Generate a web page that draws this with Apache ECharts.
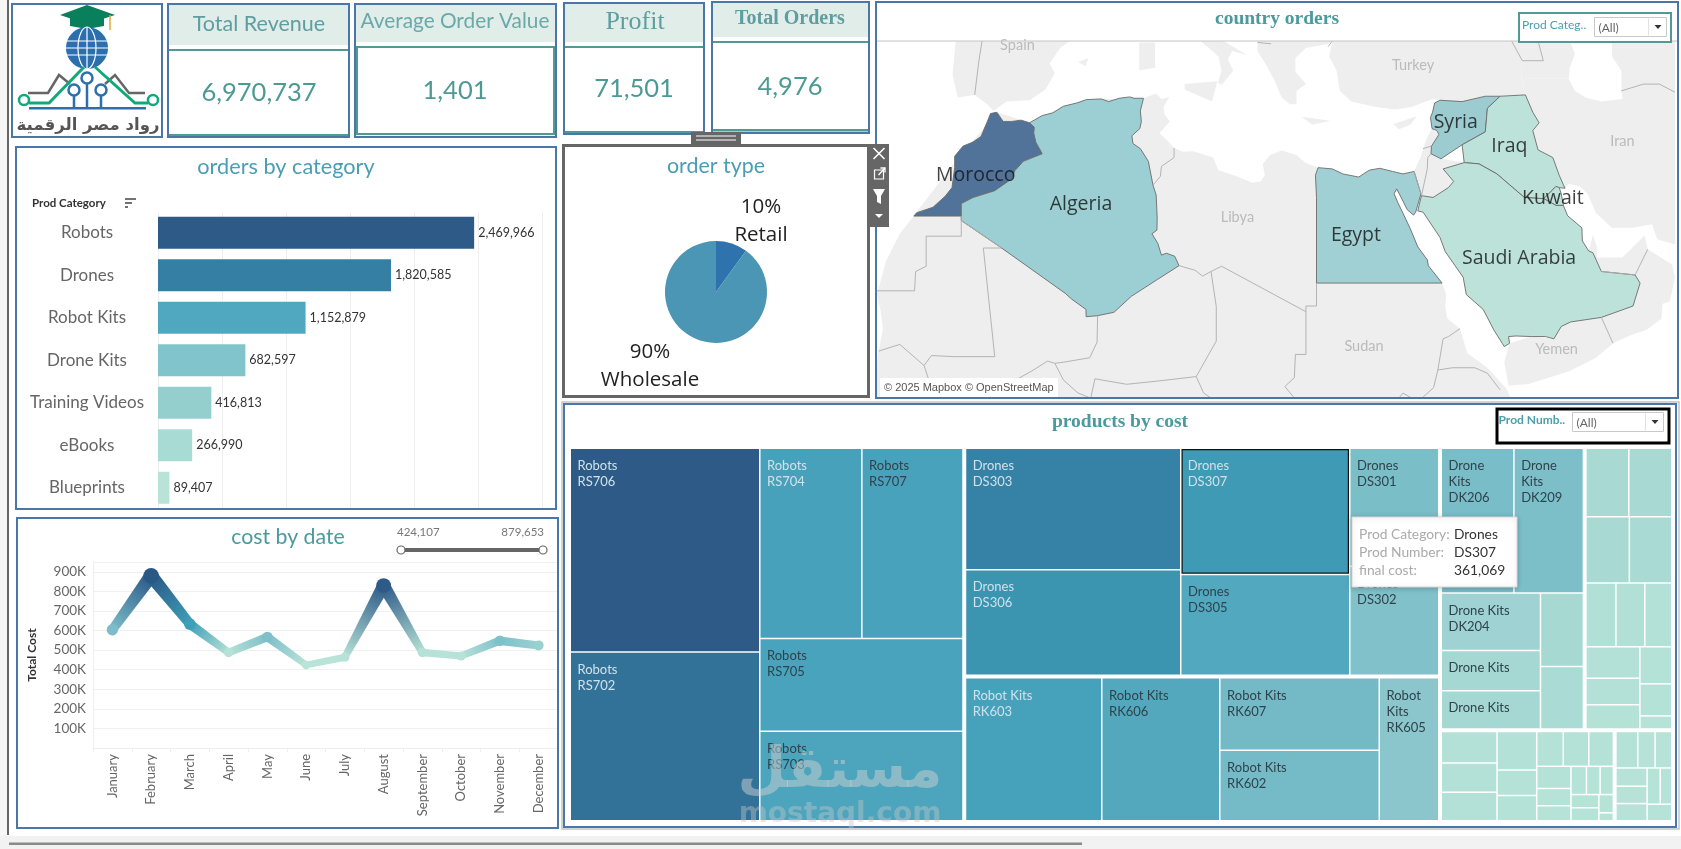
<!DOCTYPE html>
<html lang="en">
<head>
<meta charset="utf-8">
<title>Sales dashboard</title>
<style>html,body{margin:0;padding:0;background:#fff;overflow:hidden}#main{width:1681px;height:849px}</style>
<script src="https://cdn.jsdelivr.net/npm/echarts@6/dist/echarts.min.js"></script>
</head>
<body>
<div id="main"></div>
<script>
// ---------- Data ----------
const kpiTotalRevenue = '6,970,737';
const kpiAverageOrderValue = '1,401';
const kpiProfit = '71,501';
const kpiTotalOrders = '4,976';

const categories = ['Robots', 'Drones', 'Robot Kits', 'Drone Kits', 'Training Videos', 'eBooks', 'Blueprints'];
const categoryTotals = [2469966, 1820585, 1152879, 682597, 416813, 266990, 89407];
const categoryColors = ['#2d5a87', '#367fa4', '#4fa8bf', '#82c4cb', '#94cfcd', '#a8dbd3', '#b9e3d6'];

const orderTypes = ['Retail', 'Wholesale'];
const orderTypeShares = [10, 90];
const orderTypeColors = ['#2e72ae', '#4a96b4'];

const months = ['January', 'February', 'March', 'April', 'May', 'June', 'July', 'August', 'September', 'October', 'November', 'December'];
const monthlyCost = [604000, 879653, 633000, 488000, 567000, 424107, 464000, 830000, 488000, 470000, 548000, 524000];

const robotsProducts = [['RS706', 652000], ['RS702', 540000], ['RS704', 328000], ['RS707', 325000], ['RS705', 318000], ['RS703', 307000]];
const dronesProducts = [['DS303', 443000], ['DS306', 385000], ['DS307', 361069], ['DS305', 289000], ['DS301', 178000], ['DS302', 164500]];
const robotKitsProducts = [['RK603', 332000], ['RK606', 287500], ['RK607', 197000], ['RK602', 191500], ['RK605', 145000]];
const droneKitsProducts = [['DK206', 180000], ['DK209', 172300], ['DK204', 97300], ['DK203', 68300], ['DK207', 64900], ['DK201', 54000], ['DK208', 45800]];
const trainingProducts = [['TV01', 50900], ['TV02', 50900], ['TV03', 49800], ['TV04', 48600], ['TV05', 33100], ['TV06', 31900], ['TV07', 29700], ['TV08', 29400], ['TV09', 24600], ['TV10', 22700], ['TV11', 20400], ['TV12', 17700], ['TV13', 7200]];
const ebookProducts = [['EB01', 30500], ['EB02', 28500], ['EB03', 27500], ['EB04', 26600], ['EB05', 17500], ['EB06', 17500], ['EB07', 16100], ['EB08', 15500], ['EB09', 14900], ['EB10', 13200], ['EB11', 10200], ['EB12', 9000], ['EB13', 7600], ['EB14', 6700], ['EB15', 6500], ['EB16', 6400], ['EB17', 6300], ['EB18', 4600], ['EB19', 2000]];
const blueprintProducts = [['BP01', 14300], ['BP02', 11300], ['BP03', 10900], ['BP04', 10200], ['BP05', 9700], ['BP06', 9600], ['BP07', 8500], ['BP08', 7500], ['BP09', 7300]];
const productsByCategory = [robotsProducts, dronesProducts, robotKitsProducts, droneKitsProducts, trainingProducts, ebookProducts, blueprintProducts];

const lightLabelCells = ['RS706', 'RS702', 'RS704', 'DS303', 'DS306', 'DS307', 'RK603'];
const wrappedLabelCells = ['DK206', 'DK209', 'RK605'];
const nameOnlyLabelCells = ['DK203', 'DK207'];
const unlabelledCells = ['DK201', 'DK208'];
const treemapRamp = [[2000, '#b7e3d7'], [30000, '#b3e1d7'], [50000, '#a8dad3'], [100000, '#9fd2d2'], [180000, '#79bdc8'], [290000, '#52a8be'], [330000, '#47a1bb'], [370000, '#3c98b3'], [440000, '#3683a6'], [540000, '#327299'], [650000, '#2d5a87']];
const costRamp = [[424000, '#b9e4d8'], [500000, '#b5e1d6'], [548000, '#7fc0ca'], [604000, '#7cbdc9'], [633000, '#3e9fb8'], [830000, '#2d5a87'], [880000, '#2a5886']];

const mapExtent = { west: -16.66, east: 58.98, south: 11.75, north: 41.1 };

const countryColors = { Morocco: '#527399', Algeria: '#9ccfd3', Egypt: '#a0d0d4', Syria: '#9cccd0', Iraq: '#bde2da', Kuwait: '#bde2da', 'Saudi Arabia': '#bde2da' };

const moroccoOutline = [[-13.17,27.67],[-12.9,27.95],[-11.35,28.4],[-10.2,29.3],[-9.55,30],[-9.3,31.6],[-9.3,32.5],[-8.5,33.3],[-7.6,33.6],[-6.8,34.05],[-6.2,35.2],[-5.9,35.8],[-5.3,35.9],[-4.7,35.2],[-3.9,35.2],[-3,35.3],[-2.2,35.1],[-1.75,34.75],[-1.8,34.3],[-1.6,33.6],[-1,32.7],[-2.8,32.1],[-3.6,31.35],[-3.9,30.7],[-5.5,29.75],[-7.55,29.2],[-8.67,28.7],[-8.67,27.67]];
const algeriaOutline = [[-2.2,35.1],[-1,35.65],[0,35.85],[1,36.35],[2.3,36.6],[3.2,36.85],[4.6,36.9],[5.3,36.7],[6.3,36.95],[7.3,37.05],[7.7,36.95],[8.6,36.95],[8.3,36],[8.4,35.2],[8.25,34.65],[7.5,34.1],[7.6,33.5],[8.3,33.1],[9.06,32.1],[9.5,30.2],[9.8,29.4],[9.9,27.5],[9.87,26.5],[9.4,26.2],[9.95,25.4],[10.3,24.4],[10.77,24.56],[11.56,24.3],[11.97,23.5],[9.9,22.3],[7.45,20.85],[5.8,19.45],[4.25,19.15],[3.16,19.06],[3.15,19.7],[1.8,20.6],[1.17,21.12],[-4.83,24.99],[-8.67,27.3],[-8.67,27.67],[-8.67,28.7],[-7.55,29.2],[-5.5,29.75],[-3.9,30.7],[-3.6,31.35],[-2.8,32.1],[-1,32.7],[-1.6,33.6],[-1.8,34.3],[-1.75,34.75]];
const egyptOutline = [[25.15,31.6],[26.5,31.5],[27.5,31.1],[29,30.85],[30,31.4],[31,31.55],[32.2,31.3],[33.2,31.1],[34.25,31.3],[34.9,29.5],[34.4,28],[34.2,27.75],[33.6,28.2],[33.2,28.9],[32.6,29.9],[32.35,29.5],[32.7,28.8],[33.2,27.9],[33.9,26.6],[34.6,25.1],[35.5,24],[35.6,23.5],[36.9,22],[25,22],[25,29.2],[24.9,31]];
const syriaOutline = [[36,35.9],[35.8,35.5],[35.95,34.65],[36.4,34.5],[36.6,34.2],[35.9,33.3],[35.85,32.7],[36.8,32.3],[38.8,33.4],[41,34.4],[41.2,36.2],[42.4,37.1],[41,37.1],[38.8,36.7],[36.7,36.8],[36.2,36.6]];
const iraqOutline = [[42.4,37.1],[44.8,37.2],[45.5,35.9],[46.1,35.1],[45.5,34.5],[46,33],[47.4,32.4],[48,31],[48.55,29.95],[47.9,30],[47.7,30.1],[46.55,29.1],[44.7,29.2],[42.1,31.1],[40.4,31.9],[39,32],[38.8,33.4],[41,34.4],[41.2,36.2]];
const kuwaitOutline = [[47.7,30.1],[48,30],[48.2,29.5],[48.4,28.55],[47.7,28.55],[46.55,29.1]];
const saudiOutline = [[34.95,29.35],[36.05,29.2],[37.5,30],[38,30.5],[37,31.5],[39,32],[40.4,31.9],[42.1,31.1],[44.7,29.2],[46.55,29.1],[47.7,28.55],[48.4,28.55],[48.8,27.7],[50.15,26.7],[50.2,25.6],[50.8,24.75],[51.2,24.6],[52,23],[55.2,22.7],[55.67,22],[55,20],[52,19],[49.1,18.6],[48.2,18.2],[47.5,17.1],[46.7,17.3],[45.4,17.3],[43.9,17.35],[43.2,17.3],[43.3,16.7],[42.8,16.4],[42.6,16.7],[41.8,17.9],[40.8,19.7],[39.2,21],[38.9,22.5],[37.2,24.7],[36.7,25.9],[35.1,28],[34.6,28.1]];

const landAfrica = [[-16.66,11.75],[-16.66,15],[-16.5,16],[-16.1,18],[-16.3,19.5],[-16.66,21],[-15.8,23.9],[-14.5,26.2],[-13.17,27.67],[-9.8,31.5],[-5.3,35.9],[-2.2,35.1],[1,36.35],[3.2,36.85],[8.6,36.95],[9.8,37.3],[10.3,36.9],[11.05,37.05],[10.5,36.3],[10.6,35.7],[11.1,35.2],[10.1,34.3],[10.9,33.7],[11.5,33.15],[12.3,32.85],[13.3,32.9],[15.2,32.4],[15.7,31.4],[17.5,30.9],[18.9,30.4],[19.7,30.5],[20.1,31],[19.9,31.9],[20.6,32.6],[21.7,32.95],[23.1,32.6],[23.9,32],[25.15,31.6],[36.9,22],[37.3,21],[37.2,20],[37.4,18.9],[38.6,18],[39.3,15.8],[41.2,14.5],[43,12.6],[43.4,11.75]];
const landLevant = [[34.25,31.3],[34.9,29.5],[34.95,29.35],[36.05,29.2],[37.5,30],[38,30.5],[37,31.5],[39,32],[36.8,32.3],[35.85,33.3],[36.6,34.2],[35.95,34.65],[35.5,34],[35.1,33.1],[34.9,32.5]];
const landYemen = [[43.2,12.9],[45,13],[47,13.6],[49,14.2],[51.5,15.4],[53.1,16.7],[52,19],[49.1,18.6],[48.2,18.2],[47.5,17.1],[45.4,17.3],[43.3,16.7],[42.8,15]];
const landOman = [[50.8,24.75],[51.2,26.1],[51.6,25],[51.6,24.2],[54,24.2],[56.1,26.05],[56.4,24.9],[58.7,23.6],[58.98,22.5],[58.5,20.4],[57.8,20.2],[57.7,18.9],[56.3,17.9],[55,17.5],[53.1,16.7],[52,19],[55,20],[55.67,22],[55.2,22.7],[52,23]];
const landTurkey = [[26.5,41.1],[26.2,40],[26.9,39],[27.2,37.5],[28.3,36.7],[30.6,36.3],[32.5,36.1],[34,36.3],[36,36.9],[36.7,36.8],[38.8,36.7],[41,37.1],[44.8,37.2],[44.4,38.4],[44.5,39.7],[43.5,41.1]];
const landCaucasus = [[43.5,41.1],[44.5,39.7],[44.4,38.4],[48.9,38.4],[49,39.2],[49.5,40.2],[49,41.1]];
const landIran = [[44.8,37.2],[44.4,38.4],[48.9,38.4],[49.5,37.5],[50.5,37],[52,36.7],[54,36.9],[53.9,37.5],[53.9,39],[53,40],[53,41.1],[58.98,41.1],[58.98,25.3],[57.3,25.75],[56.8,27],[55,26.7],[53,26.7],[51.5,27.9],[50.7,29.5],[50,30.1],[48.9,30.3],[48.55,29.95],[48,31],[47.4,32.4],[46,33],[45.5,34.5],[46.1,35.1],[45.5,35.9]];
const landIberia = [[-9.2,41.1],[-9.5,38.7],[-9,37],[-7.4,37.2],[-6.2,36.5],[-5.6,36],[-4.4,36.7],[-2.2,36.8],[-0.7,37.6],[0.2,38.8],[-0.3,39.5],[0.7,40.6],[1.6,41.1]];
const landBalkans = [[19.4,41.1],[19.4,40.4],[20,39.7],[21,38.3],[21.7,37],[22.5,36.5],[23.1,36.5],[23.1,37.5],[24,38],[23,38.9],[23,39.9],[24,40.6],[26.2,40.9],[26.5,41.1]];
const landItaly = [[14,41.1],[14.8,40.6],[15.7,40],[16,39],[15.65,38.1],[16,37.95],[16.5,38.4],[17.1,39],[16.6,39.8],[17,40.4],[18.4,40.1],[16.2,41.1]];
const landSicily = [[12.5,38],[15.6,38.2],[15.1,36.7],[12.5,37.6]];
const landSardinia = [[8.2,39],[8.2,41],[9.7,41],[9.7,39.2]];
const landCrete = [[23.6,35.55],[26.3,35.25],[24.6,34.95]];
const landCyprus = [[32.3,35],[34.5,35.6],[33.9,34.95],[32.8,34.6]];
const landBalearic = [[2.4,39.6],[3.4,39.9],[3.1,39.3]];
const landAreas = [landAfrica, landLevant, landYemen, landOman, landTurkey, landCaucasus, landIran, landIberia, landBalkans, landItaly, landSicily, landSardinia, landCrete, landCyprus, landBalearic];

const borderLines = [
  [[-6.7,41.1],[-7,39.7],[-7.4,37.2]],
  [[-8.67,27.67],[-8.67,26],[-12,26],[-12,23.45],[-13,23],[-13.1,21.33],[-16.66,21.33]],
  [[-8.67,27.3],[-4.83,25],[-6.58,25],[-5.5,15.5],[-9.3,15.5],[-11.5,15.6],[-12.2,14.7],[-11.4,12.4],[-12,11.75]],
  [[-16.5,16],[-14.5,16.6],[-12.2,14.7]],
  [[4.25,19.15],[4.2,16.8],[3.5,15.4],[1,15],[0.2,14.9],[-0.5,15.1],[-2,14.2],[-3.5,13.4],[-4.3,12.7],[-5.4,11.75]],
  [[0.2,14.9],[1,13.4],[2.4,12.2],[3.6,11.75]],
  [[3.6,11.75],[4,13.5],[7,13],[10,13.3],[13.6,13.7],[15.5,16.9],[15.5,19.95],[15,23]],
  [[11.97,23.5],[13.5,23.1],[14.2,22.6],[15,23],[16,23.45],[24,19.5],[24,20],[25,20],[25,22]],
  [[24,19.5],[24,15.7],[23,15.7],[22.9,13.6],[22,12.8],[22.9,11.75]],
  [[13.6,13.7],[14.3,12.2],[15,11.75]],
  [[38.6,18],[37.5,17.3],[37,17.1],[36.5,14.3],[36.1,12.7],[35,11.75]],
  [[36.5,14.3],[37.9,14.5],[40,14.5],[41.2,14],[42.4,12.5]],
  [[32.8,11.75],[33.2,12.2],[34,11.75]],
  [[9.5,30.2],[10.2,30.9],[10.3,31.7],[11.5,32.4],[11.5,33.15]],
  [[34.25,31.3],[34.9,29.5]],[[34.95,29.35],[35.5,31.5],[35.55,32.4],[35.85,32.7]],
  [[35.1,33.1],[35.9,33.3]],
  [[52,19],[53.1,16.7]],[[52,23],[55.2,22.7],[56.4,24.9]],
  [[53.9,37.5],[56,38],[57.5,38],[58.98,37.4]],
  [[26.5,41.1],[26.1,40.7]],[[19.4,41],[20.7,40.9]],
  [[44.5,39.7],[43.5,41.1]],[[44.5,39.7],[46.5,39.7],[46,41.1]]
];

const countryLabels = [['Morocco', -7.3, 30.95], ['Algeria', 2.68, 28.6], ['Egypt', 28.74, 26.08], ['Syria', 38.2, 35.1], ['Iraq', 43.28, 33.3], ['Kuwait', 47.4, 29.16], ['Saudi Arabia', 44.2, 24.14]];
const basemapLabels = [['Spain', -3.35, 40.78], ['Turkey', 34.15, 39.36], ['Iran', 54, 33.64], ['Libya', 17.5, 27.6], ['Sudan', 29.5, 16.4], ['Yemen', 47.75, 16.16]];

// ---------- Helpers ----------
const BLUE = '#4a76a8', TEAL = '#4f9a94', HEAD = '#e0ede9', UI = 'Lato, "Open Sans", sans-serif', SERIF = '"Liberation Serif", serif';

function hexRgb(h) { return [1, 3, 5].map(i => parseInt(h.slice(i, i + 2), 16)); }
function rampColor(ramp, v) {
  if (v <= ramp[0][0]) return ramp[0][1];
  for (let i = 1; i < ramp.length; i++) {
    if (v <= ramp[i][0]) {
      const t = (v - ramp[i - 1][0]) / (ramp[i][0] - ramp[i - 1][0]);
      const a = hexRgb(ramp[i - 1][1]), b = hexRgb(ramp[i][1]);
      return 'rgb(' + a.map((c, k) => Math.round(c + (b[k] - c) * t)).join(',') + ')';
    }
  }
  return ramp[ramp.length - 1][1];
}
const rect = (x, y, w, h, fill, stroke, lineWidth, z) => ({ type: 'rect', shape: { x, y, width: w, height: h }, style: { fill: fill || 'none', stroke: stroke || 'none', lineWidth: lineWidth || 0 }, z: z == null ? 5 : z, silent: true });
const text = (s, x, y, size, color, opt) => ({ type: 'text', x, y, z: (opt && opt.z) || 6, silent: true, style: { text: s, fill: color, fontSize: size, fontFamily: (opt && opt.font) || UI, fontWeight: (opt && opt.weight) || 'normal', textAlign: (opt && opt.align) || 'center', textVerticalAlign: 'middle', verticalAlign: 'middle' } });
const line = (pts, stroke, lineWidth, z) => ({ type: 'polyline', z: z || 6, silent: true, shape: { points: pts }, style: { stroke, lineWidth, fill: 'none' } });
const poly = (pts, fill, z) => ({ type: 'polygon', z: z || 6, silent: true, shape: { points: pts }, style: { fill } });
const dot = (cx, cy, r, fill, stroke, lineWidth, z) => ({ type: 'circle', z: z || 6, silent: true, shape: { cx, cy, r }, style: { fill, stroke: stroke || 'none', lineWidth: lineWidth || 0 } });

function dropdown(x, y, w, h, z) {
  return [
    rect(x, y, w, h, '#fff', '#c9c9c9', 1, z),
    line([[x + w - 18, y + 1], [x + w - 18, y + h - 1]], '#e2e2e2', 1, z),
    text('(All)', x + 4, y + h / 2 + 1, 12, '#666', { align: 'left', z }),
    poly([[x + w - 12, y + h / 2 - 2], [x + w - 5, y + h / 2 - 2], [x + w - 8.5, y + h / 2 + 2]], '#333', z)
  ];
}

// ---------- Page furniture, panels and cards ----------
const furniture = [
  rect(0, 0, 7, 836, '#f6f6f6', null, 0, 0),
  rect(7, 0, 2, 835, '#666', null, 0, 1),
  rect(0, 836, 1681, 13, '#f2f2f2', null, 0, 1),
  rect(9, 842.5, 1073, 2.5, '#8a8a8a', null, 0, 2),

  rect(12, 4, 150, 133, null, BLUE, 2),

  rect(168, 5, 182, 40, HEAD, null, 0, 1),
  rect(168, 49, 182, 2, TEAL, null, 0),
  rect(168, 134, 182, 2.5, TEAL, null, 0),
  rect(168, 4, 181, 133, null, BLUE, 2),
  text('Total Revenue', 259, 24, 21.5, '#5f9ea0'),
  text(kpiTotalRevenue, 259, 93, 25.5, '#4d9a94'),

  rect(355, 4, 201, 38, HEAD, null, 0, 1),
  rect(357, 47, 197, 87, null, TEAL, 2),
  rect(355, 4, 201, 133, null, BLUE, 2),
  text('Average Order Value', 455, 21, 20.8, '#6aa9a9'),
  text(kpiAverageOrderValue, 455, 91, 25.5, '#4d9a94'),

  rect(564, 3, 140, 39, HEAD, null, 0, 1),
  rect(564, 46, 140, 2, TEAL, null, 0),
  rect(564, 131, 140, 2.5, TEAL, null, 0),
  rect(564, 3, 140, 131, null, BLUE, 2),
  text('Profit', 635, 22, 26, '#5f9ea0', { font: SERIF }),
  text(kpiProfit, 634, 89, 25.5, '#4d9a94'),

  rect(712, 2, 157, 35, HEAD, null, 0, 1),
  rect(712, 41, 157, 2, TEAL, null, 0),
  rect(712, 129, 157, 2.5, TEAL, null, 0),
  rect(712, 2, 157, 131, null, BLUE, 2),
  text('Total Orders', 790, 18.5, 20, '#5f9ea0', { font: SERIF, weight: 'bold' }),
  text(kpiTotalOrders, 790, 87, 25.5, '#4d9a94'),

  rect(16, 147, 540, 362, null, BLUE, 2),
  text('orders by category', 286, 167, 21.7, '#4a9db5'),
  text('Prod Category', 32, 203, 11.5, '#333', { align: 'left', weight: 'bold' }),
  line([[125, 199], [136, 199]], '#444', 1.5), line([[125, 203], [132, 203]], '#444', 1.5), line([[125, 207], [128, 207]], '#444', 1.5),

  rect(17, 518, 541, 310, null, BLUE, 2),
  text('cost by date', 288, 537, 21.3, '#4a9a9e'),
  text('424,107', 397, 532, 11.5, '#777', { align: 'left' }),
  text('879,653', 544, 532, 11.5, '#777', { align: 'right' }),
  rect(402, 548, 140, 4, '#666', null, 0),
  dot(401, 550, 4, '#fff', '#666', 1.2), dot(543, 550, 4, '#fff', '#666', 1.2),

  rect(563.5, 145.5, 305, 251, null, '#666', 3),
  rect(691, 132, 50, 12, '#666', null, 0),
  line([[696, 136], [736, 136]], '#fff', 1), line([[696, 140], [736, 140]], '#fff', 1),
  text('order type', 716, 166, 21.4, '#4a9db5'),

  rect(876, 2, 802, 396, null, BLUE, 2, 10),
  rect(877, 3, 800, 38, '#fff', null, 0, 4),
  line([[877, 41], [1677, 41]], '#c4c4c4', 1, 10),
  text('country orders', 1277, 19, 19.5, '#4a9a9e', { font: SERIF, weight: 'bold', z: 11 }),
  rect(1519, 13, 152, 29, '#fff', TEAL, 2, 10),
  text('Prod Categ..', 1522, 25, 12, '#4aa0ad', { align: 'left', z: 11 }),
  ...dropdown(1594.5, 17.5, 72, 19, 11),
  rect(880, 378, 178, 19, '#fff', null, 0, 9),
  text('\u00a9 2025 Mapbox \u00a9 OpenStreetMap', 884, 388, 11, '#555', { align: 'left', font: '"Liberation Sans", sans-serif', z: 10 }),

  // floating toolbar of the selected panel, above the map
  rect(870, 144, 19, 83, '#666', null, 0, 40),
  line([[873.5, 148], [884.5, 159]], '#fff', 1.6, 41), line([[884.5, 148], [873.5, 159]], '#fff', 1.6, 41),
  rect(874.5, 170, 9, 9, null, '#fff', 1.2, 41), line([[878.5, 175], [885, 168]], '#fff', 1.4, 41), line([[880.5, 168], [885, 168], [885, 172.5]], '#fff', 1.3, 41),
  poly([[873, 189], [885, 189], [881, 196], [881, 204], [877, 202], [877, 196]], '#fff', 41),
  poly([[875, 214], [883, 214], [879, 218]], '#fff', 41),

  rect(562, 402, 1117, 427, null, '#c4c4c4', 1.5, 3),
  rect(564, 404, 1112, 423, null, BLUE, 2, 3),
  text('products by cost', 1120, 422, 19.5, '#4a9a9e', { font: SERIF, weight: 'bold' }),
  rect(1497, 409, 172, 34, '#fff', '#000', 3),
  text('Prod Numb..', 1498.5, 420, 12, '#4aa0ad', { align: 'left', weight: 'bold' }),
  ...dropdown(1572.5, 412.5, 91, 19, 6),

  // hover card for the selected treemap cell
  { type: 'rect', z: 30, silent: true, shape: { x: 1352, y: 517, width: 165, height: 70 }, style: { fill: '#fff', stroke: '#d8d8d8', lineWidth: 1, shadowColor: 'rgba(0,0,0,0.22)', shadowBlur: 5, shadowOffsetY: 1 } },
  text('Prod Category:', 1359, 535, 13.8, '#aaa', { align: 'left', z: 31 }),
  text('Prod Number:', 1359, 553, 13.8, '#aaa', { align: 'left', z: 31 }),
  text('final cost:', 1359, 571, 13.8, '#aaa', { align: 'left', z: 31 }),
  text('Drones', 1454, 535, 13.8, '#333', { align: 'left', z: 31 }),
  text('DS307', 1454, 553, 13.8, '#333', { align: 'left', z: 31 }),
  text((361069).toLocaleString('en-US'), 1454, 571, 13.8, '#333', { align: 'left', z: 31 }),

  // platform watermark across the lower treemap
  text('\u0645\u0633\u062a\u0642\u0644', 840, 772, 56, 'rgba(205,208,210,0.5)', { font: '"DejaVu Sans", sans-serif', weight: 'bold', z: 32 }),
  text('mostaql.com', 840, 815, 28, 'rgba(195,198,200,0.42)', { font: '"DejaVu Sans", sans-serif', weight: 'bold', z: 32 })
];

// ---------- Organisation logo ----------
const logoBlue = '#2c6fae', logoGreen = '#12a97a', logoGrey = '#666';
const logo = [
  poly([[70, 17], [104, 17], [104, 26], [87, 29], [70, 26]], '#0a7f5c'),
  poly([[87, 5], [115, 15], [87, 24], [60, 15]], '#0a7f5c'),
  line([[110, 15], [110, 30]], '#e0a83c', 1.5),
  { type: 'ellipse', z: 6, silent: true, shape: { cx: 87, cy: 48, rx: 21, ry: 21 }, style: { fill: logoBlue } },
  { type: 'ellipse', z: 6, silent: true, shape: { cx: 87, cy: 48, rx: 9, ry: 21 }, style: { fill: 'none', stroke: '#fff', lineWidth: 1.2 } },
  line([[87, 27], [87, 69]], '#fff', 1.2), line([[67, 41], [107, 41]], '#fff', 1.2), line([[66, 48], [108, 48]], '#fff', 1.2), line([[67, 55], [107, 55]], '#fff', 1.2),
  line([[28, 93], [48, 93], [59, 75], [70, 84]], logoGrey, 2.5),
  line([[145, 93], [129, 93], [115, 75], [105, 84]], logoGrey, 2.5),
  line([[29, 103], [49, 103], [84, 67]], logoGreen, 3),
  line([[148, 103], [135, 103], [95, 67]], logoGreen, 3),
  dot(24, 100, 5, '#fff', logoGreen, 2.5), dot(153, 100, 5, '#fff', logoGreen, 2.5),
  line([[87, 84], [87, 107]], logoBlue, 2.5), line([[74, 96], [74, 107]], logoBlue, 2.5), line([[101, 96], [101, 107]], logoBlue, 2.5),
  dot(87, 78, 5.5, '#fff', logoBlue, 2.5), dot(74, 90, 5.5, '#fff', logoBlue, 2.5), dot(101, 90, 5.5, '#fff', logoBlue, 2.5),
  rect(29, 107, 117, 2.5, logoBlue, null, 0),
  text('\u0631\u0648\u0627\u062f \u0645\u0635\u0631 \u0627\u0644\u0631\u0642\u0645\u064a\u0629', 88, 126, 16.5, '#555', { font: '"DejaVu Sans", sans-serif', weight: 'bold' })
];

// ---------- Map registration ----------
const e = mapExtent;
const frameRing = [[e.west, e.south], [e.east, e.south], [e.east, e.north], [e.west, e.north], [e.west, e.south]];
const feature = (name, ring) => ({ type: 'Feature', properties: { name }, geometry: { type: 'Polygon', coordinates: [ring.concat([ring[0]])] } });
const countryOutlines = { Morocco: moroccoOutline, Algeria: algeriaOutline, Egypt: egyptOutline, Syria: syriaOutline, Iraq: iraqOutline, Kuwait: kuwaitOutline, 'Saudi Arabia': saudiOutline };
echarts.registerMap('region', {
  type: 'FeatureCollection',
  features: [feature('frame', frameRing)]
    .concat(landAreas.map((r, i) => feature('land' + i, r)))
    .concat(Object.keys(countryOutlines).map(n => feature(n, countryOutlines[n])))
});
const mercator = {
  project: p => [p[0], -Math.log(Math.tan(Math.PI / 4 + p[1] * Math.PI / 360)) * 180 / Math.PI],
  unproject: p => [p[0], (2 * Math.atan(Math.exp(-p[1] * Math.PI / 180)) - Math.PI / 2) * 180 / Math.PI]
};

// ---------- Treemap data ----------
const treemapData = categories.map((cat, c) => ({
  name: cat,
  children: productsByCategory[c].map(([num, value]) => {
    const wrapped = wrappedLabelCells.includes(num);
    const nameOnly = nameOnlyLabelCells.includes(num);
    const labelled = c < 4 && !unlabelledCells.includes(num);
    const head = wrapped ? cat.replace(' ', '\n') : cat;
    const item = {
      name: num, value,
      itemStyle: { color: rampColor(treemapRamp, value) },
      label: {
        show: labelled,
        formatter: nameOnly ? head : head + '\n' + num,
        color: lightLabelCells.includes(num) ? '#cfe2ea' : '#2f434c'
      }
    };
    if (num === 'DS307') {
      item.itemStyle = { color: rampColor(treemapRamp, value), borderColor: '#111', borderWidth: 1.2 };
      item.label.offset = [-7, -4.5];
    }
    return item;
  })
}));

// ---------- Monthly cost path: width and colour follow the value ----------
const widthFor = v => 6.5 + (v - 424107) / (879653 - 424107) * 7;
function renderCostPath(params, api) {
  const i = params.dataIndex;
  const v = api.value(1);
  const p = api.coord([i, v]);
  const children = [];
  if (i < monthlyCost.length - 1) {
    const nv = monthlyCost[i + 1];
    const q = api.coord([i + 1, nv]);
    const dx = q[0] - p[0], dy = q[1] - p[1], len = Math.hypot(dx, dy);
    const nx = -dy / len, ny = dx / len, a = widthFor(v) / 2, b = widthFor(nv) / 2;
    children.push({
      type: 'polygon',
      shape: { points: [[p[0] + nx * a, p[1] + ny * a], [q[0] + nx * b, q[1] + ny * b], [q[0] - nx * b, q[1] - ny * b], [p[0] - nx * a, p[1] - ny * a]] },
      style: { fill: { type: 'linear', global: true, x: p[0], y: p[1], x2: q[0], y2: q[1], colorStops: [{ offset: 0, color: rampColor(costRamp, v) }, { offset: 1, color: rampColor(costRamp, nv) }] } }
    });
  }
  return { type: 'group', children };
}
function renderCostDot(params, api) {
  const v = api.value(1);
  const p = api.coord([params.dataIndex, v]);
  return { type: 'circle', shape: { cx: p[0], cy: p[1], r: widthFor(v) / 2 + 1 }, style: { fill: rampColor(costRamp, v) } };
}

// ---------- Chart ----------
const chart = echarts.init(document.getElementById('main'), null, { renderer: 'canvas', width: 1681, height: 849 });
chart.setOption({
  animation: false,
  backgroundColor: '#fff',
  graphic: { elements: furniture.concat(logo) },
  geo: {
    map: 'region', projection: mercator, roam: false, silent: true, z: 1,
    left: 877, top: 41, width: 798, height: 357,
    label: { show: false }, emphasis: { disabled: true },
    itemStyle: { areaColor: '#eeeeee', borderWidth: 0, borderColor: '#eeeeee' },
    regions: [{ name: 'frame', itemStyle: { areaColor: '#fff', borderWidth: 0 } }].concat(
      Object.keys(countryColors).map(n => ({ name: n, itemStyle: { areaColor: countryColors[n], borderColor: '#6b6b6b', borderWidth: 0.9 } })))
  },
  grid: [
    { left: 158, top: 211.5, width: 384, height: 297.5 },
    { left: 93, top: 562, width: 465, height: 186 }
  ],
  xAxis: [
    { gridIndex: 0, type: 'value', min: 0, max: 3000000, interval: 500000, axisLabel: { show: false }, axisLine: { show: false }, axisTick: { show: false }, splitLine: { lineStyle: { color: '#eeeeee', width: 1 } } },
    { gridIndex: 1, type: 'category', data: months, axisTick: { show: true, alignWithLabel: false, length: 4, lineStyle: { color: '#eee' } }, axisLine: { lineStyle: { color: '#eee' } }, axisLabel: { rotate: 90, interval: 0, margin: 6, color: '#666', fontFamily: UI, fontSize: 13, verticalAlign: 'middle' }, splitLine: { show: false } }
  ],
  yAxis: [
    { gridIndex: 0, type: 'category', inverse: true, data: categories, axisTick: { show: false }, axisLine: { show: false }, axisLabel: { color: '#666', fontFamily: UI, fontSize: 17, align: 'center', margin: 71 } },
    { gridIndex: 1, type: 'value', min: 0, max: 950000, interval: 100000, name: 'Total Cost', nameLocation: 'middle', nameGap: 55, nameRotate: 90, nameTextStyle: { color: '#333', fontFamily: UI, fontSize: 12, fontWeight: 'bold' }, axisLine: { show: true, lineStyle: { color: '#eee' } }, axisTick: { show: false }, axisLabel: { margin: 7, color: '#666', fontFamily: UI, fontSize: 13.5, showMaxLabel: false, formatter: v => (v && v % 100000 === 0) ? v / 1000 + 'K' : '' }, splitLine: { lineStyle: { color: '#f0f0f0', width: 1 } } }
  ],
  series: [
    {
      type: 'map', geoIndex: 0, silent: true, data: []
    },
    {
      type: 'lines', coordinateSystem: 'geo', polyline: true, silent: true, z: 3,
      lineStyle: { color: '#adadad', width: 0.9, opacity: 1 },
      data: borderLines.map(coords => ({ coords }))
    },
    {
      type: 'scatter', coordinateSystem: 'geo', symbolSize: 0, silent: true, z: 4,
      data: basemapLabels.map(([name, lon, lat]) => ({ name, value: [lon, lat] })),
      label: { show: true, position: 'inside', formatter: '{b}', color: '#aeaeae', fontFamily: UI, fontSize: 14.5 }
    },
    {
      type: 'scatter', coordinateSystem: 'geo', symbolSize: 0, silent: true, z: 5,
      data: countryLabels.map(([name, lon, lat]) => ({ name, value: [lon, lat] })),
      label: { show: true, position: 'inside', formatter: '{b}', color: '#111', fontFamily: '"Open Sans", sans-serif', fontSize: 19.5 }
    },
    {
      type: 'bar', xAxisIndex: 0, yAxisIndex: 0, barWidth: 32, silent: true,
      data: categoryTotals.map((value, i) => ({ value, itemStyle: { color: categoryColors[i] } })),
      label: { show: true, position: 'right', distance: 4, color: '#333', fontFamily: UI, fontSize: 12.5, formatter: p => p.value.toLocaleString('en-US') }
    },
    {
      type: 'custom', xAxisIndex: 1, yAxisIndex: 1, renderItem: renderCostPath, silent: true, z: 3,
      encode: { x: 0, y: 1 }, data: monthlyCost.map((v, i) => [i, v])
    },
    {
      type: 'custom', xAxisIndex: 1, yAxisIndex: 1, renderItem: renderCostDot, silent: true, z: 4,
      encode: { x: 0, y: 1 }, data: monthlyCost.map((v, i) => [i, v])
    },
    {
      type: 'pie', center: [716, 292], radius: [0, 51], startAngle: 90, clockwise: true, silent: true,
      data: orderTypes.map((name, i) => ({ name, value: orderTypeShares[i], itemStyle: { color: orderTypeColors[i] } })),
      label: { show: true, formatter: '{d}%\n{b}', color: '#222', fontFamily: '"Open Sans", sans-serif', fontSize: 20.5, lineHeight: 28, align: 'center' },
      labelLine: { show: false },
      labelLayout: p => p.dataIndex === 0
        ? { x: 761, y: 221.5, align: 'center', verticalAlign: 'middle' }
        : { x: 650, y: 366, align: 'center', verticalAlign: 'middle' }
    },
    {
      type: 'treemap', left: 571, top: 449, width: 1100, height: 371, roam: false, nodeClick: false, silent: true,
      breadcrumb: { show: false }, visibleMin: 0, childrenVisibleMin: 0, leafDepth: 2, z: 2,
      label: { show: true, position: 'insideTopLeft', distance: 7, offset: [-5.5, -3.2], fontFamily: UI, fontSize: 13, lineHeight: 16 },
      upperLabel: { show: false },
      itemStyle: { borderWidth: 0, gapWidth: 0, borderColor: '#fff' },
      levels: [
        { itemStyle: { borderWidth: 0, gapWidth: 4 } },
        { itemStyle: { borderWidth: 0, gapWidth: 1.5 } },
        { itemStyle: { borderWidth: 0 } }
      ],
      data: treemapData
    }
  ]
});
</script>
</body>
</html>
